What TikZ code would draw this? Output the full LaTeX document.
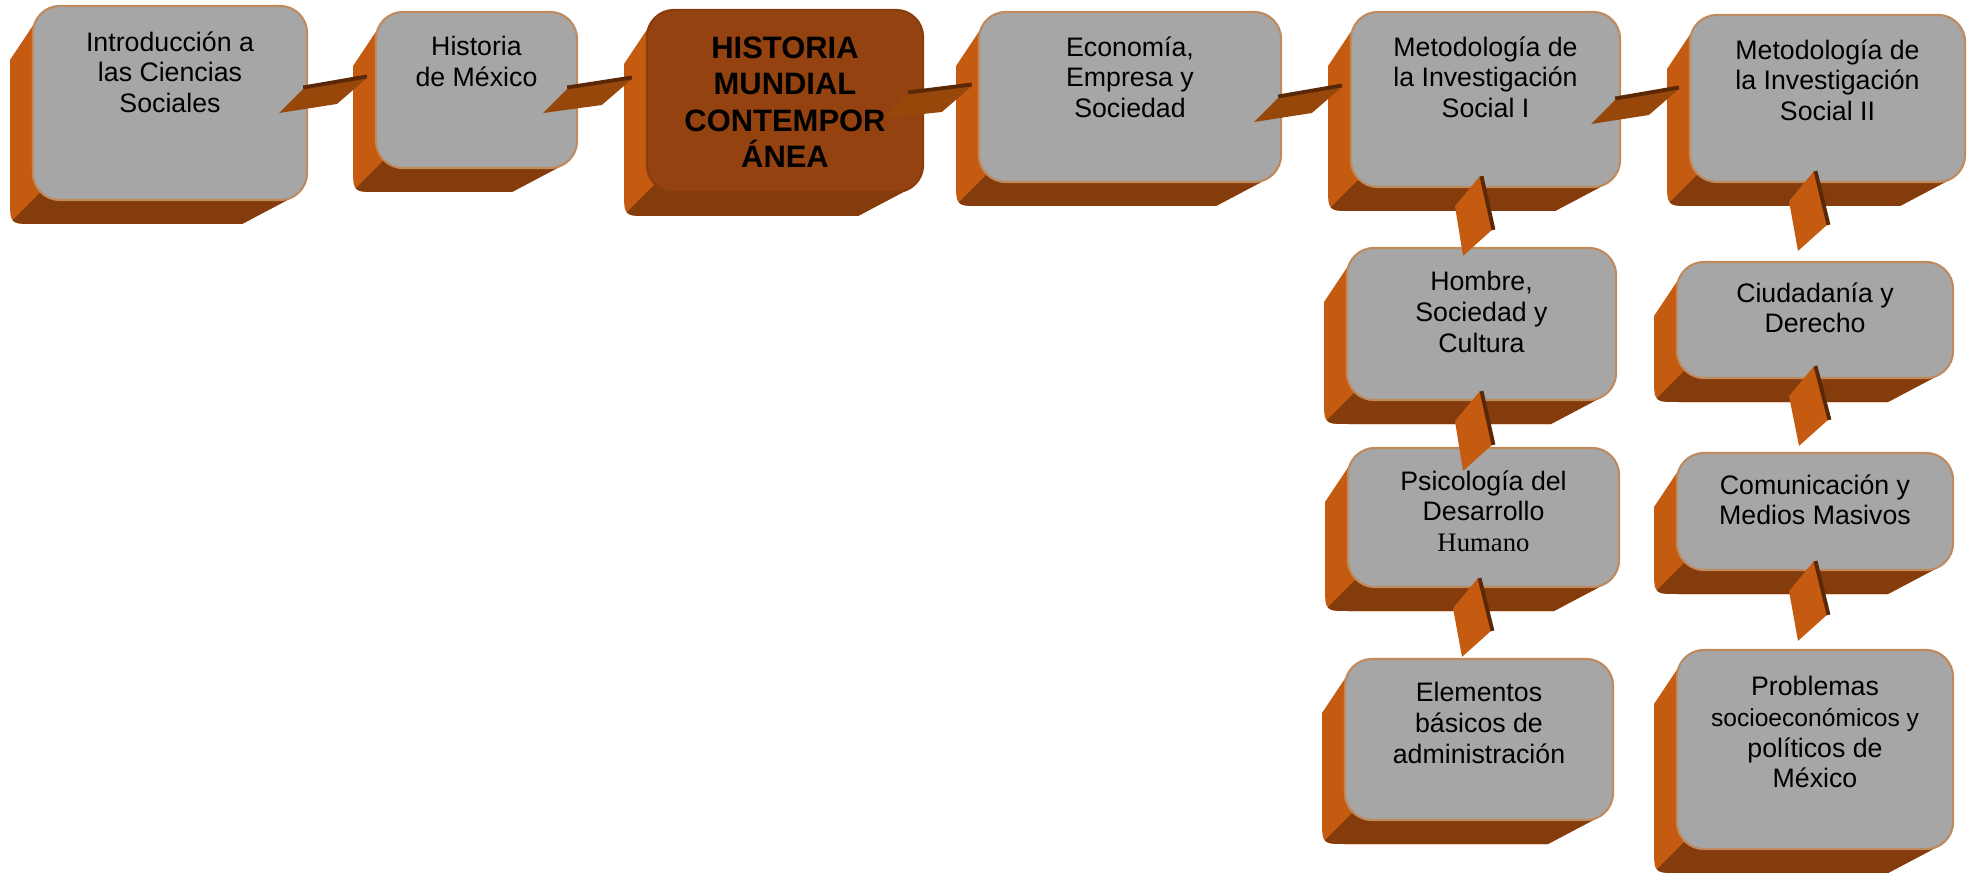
\documentclass[tikz,border=0pt]{standalone}
\usepackage{fontspec}
\setmainfont{Liberation Sans}
\newfontfamily\romana{Liberation Serif}
\usetikzlibrary{calc,positioning}

\definecolor{gris}{HTML}{A6A6A6}
\definecolor{borde}{HTML}{BF8A5E}
\definecolor{naranja}{HTML}{C55A11}
\definecolor{cafe}{HTML}{843C0C}
\definecolor{marron}{HTML}{94420F}
\definecolor{cinta}{HTML}{98470B}
\definecolor{filo}{HTML}{5A2806}

\tikzset{
  caja/.style={draw=borde, fill=gris, line width=0.6pt, rounded corners=0.27cm, inner sep=0pt},
  destacada/.style={caja, draw=marron!92!black, fill=marron},
  texto/.style={align=center, inner sep=0pt, font=\fontsize{7.6}{8.7}\selectfont},
  negrita/.style={align=center, inner sep=0pt, font=\fontsize{8.8}{10.4}\selectfont\bfseries},
  ladoclaro/.style={fill=naranja},
  ladooscuro/.style={fill=cafe},
  cintah/.style={fill=cinta},
  cintav/.style={fill=naranja},
  filo/.style={draw=filo, line width=1.1pt},
}

% 3D side of a box, from the front face x1 y1 x2 y2
\newcommand{\lado}[4]{%
  \fill[ladoclaro] (#1+6,#2+10.5) -- (#1-23,#2+54) -- (#1-23,#4-1)
    .. controls (#1-23,#4+24) .. (#1+2,#4+24) -- (#3-65,#4+24) -- (#3-12,#4-4)
    -- (#3-30,#4-10) -- (#1+10,#4-10) -- cycle;
  \begin{scope}
    \clip (#1+7,#4-7) -- (#1-43,#4+43) -- (#3+10,#4+43) -- (#3+10,#4-7) -- cycle;
    \fill[ladooscuro] (#1-23,#4-1) .. controls (#1-23,#4+24) .. (#1+2,#4+24)
      -- (#3-65,#4+24) -- (#3-12,#4-4) -- (#1-23,#4-8) -- cycle;
  \end{scope}}

% flat band between two boxes in a row
\newcommand{\puenteh}[2]{%
  \fill[cintah] (#1) -- ($(#1)+(24,-24)$) -- (#2) -- ($(#2)+(-30,26)$) -- cycle;
  \draw[filo] ($(#1)+(24,-25.5)$) -- ($(#2)+(0,-1.5)$);}

% flat band between two boxes in a column
\newcommand{\puentev}[2]{%
  \fill[cintav] (#1) -- ($(#1)+(-25,30)$) -- (#2) -- ($(#2)+(29,-26)$) -- cycle;
  \draw[filo] ($(#1)+(1.5,0)$) -- ($(#2)+(30.5,-26)$);}

\begin{document}
\begin{tikzpicture}[x=0.01cm, y=-0.01cm]
    \useasboundingbox (0,0) rectangle (1975,873);

    % lados
    \foreach \xa/\ya/\xb/\yb in {33/6/307/200, 376/12/577/168, 647/10/923/192,
        979/12/1281/182, 1351/12/1620/187, 1690/15/1965/182,
        1347/248/1616/400, 1348/448/1619/587, 1345/659/1613/820,
        1677/262/1953/378, 1677/453/1953/570, 1677/650/1953/849}
      {\lado{\xa}{\ya}{\xb}{\yb}}

    % cajas
    \node[caja, minimum width=2.74cm, minimum height=1.94cm] (intro) at (170,103) {};
    \node[caja, minimum width=2.01cm, minimum height=1.56cm] (hmx) at (476.5,90) {};
    \node[destacada, minimum width=2.76cm, minimum height=1.82cm] (hmc) at (785,101) {};
    \node[caja, minimum width=3.02cm, minimum height=1.70cm] (eco) at (1130,97) {};
    \node[caja, minimum width=2.69cm, minimum height=1.75cm] (mis1) at (1485.5,99.5) {};
    \node[caja, minimum width=2.75cm, minimum height=1.67cm] (mis2) at (1827.5,98.5) {};
    \node[caja, minimum width=2.69cm, minimum height=1.52cm] (hom) at (1481.5,324) {};
    \node[caja, minimum width=2.71cm, minimum height=1.39cm] (psi) at (1483.5,517.5) {};
    \node[caja, minimum width=2.68cm, minimum height=1.61cm] (ele) at (1479,739.5) {};
    \node[caja, minimum width=2.76cm, minimum height=1.16cm] (ciu) at (1815,320) {};
    \node[caja, minimum width=2.76cm, minimum height=1.17cm] (com) at (1815,511.5) {};
    \node[caja, minimum width=2.76cm, minimum height=1.99cm] (pro) at (1815,749.5) {};

    % puentes de la fila
    \coordinate (a1) at ($(intro.east)+(-29,10)$);
    \coordinate (b1) at ($(hmx.west)+(-8,-12)$);
    \coordinate (a2) at ($(hmx.east)+(-35,23)$);
    \coordinate (b2) at ($(hmc.west)+(-14,-22)$);
    \coordinate (a3) at ($(hmc.east)+(-40,17)$);
    \coordinate (b3) at ($(eco.west)+(-6,-11)$);
    \coordinate (a4) at ($(eco.east)+(-28,25)$);
    \coordinate (b4) at ($(mis1.west)+(-8,-12.5)$);
    \coordinate (a5) at ($(mis1.east)+(-30,24.5)$);
    \coordinate (b5) at ($(mis2.west)+(-10,-9.5)$);
    \puenteh{a1}{b1}
    \puenteh{a2}{b2}
    \puenteh{a3}{b3}
    \puenteh{a4}{b4}
    \puenteh{a5}{b5}

    % puentes de las columnas
    \coordinate (t1) at ($(mis1.south)+(-5.5,-12)$);
    \coordinate (u1) at ($(hom.north)+(-18.5,9)$);
    \coordinate (t2) at ($(hom.south)+(-1.5,-10)$);
    \coordinate (u2) at ($(psi.north)+(-20.5,24)$);
    \coordinate (t3) at ($(psi.south)+(-5.5,-10)$);
    \coordinate (u3) at ($(ele.north)+(-17,-1)$);
    \coordinate (t4) at ($(mis2.south)+(-13.5,-12)$);
    \coordinate (u4) at ($(ciu.north)+(-17,-10)$);
    \coordinate (t5) at ($(ciu.south)+(-1,-13)$);
    \coordinate (u5) at ($(com.north)+(-16,-6)$);
    \coordinate (t6) at ($(com.south)+(-1,-10)$);
    \coordinate (u6) at ($(pro.north)+(-17,-8)$);
    \puentev{t1}{u1}
    \puentev{t2}{u2}
    \puentev{t3}{u3}
    \puentev{t4}{u4}
    \puentev{t5}{u5}
    \puentev{t6}{u6}

    % textos
    \node[texto, below=0.26cm of intro.north] (intro-t) {Introducción a\\las Ciencias\\Sociales};
    \node[texto, below=0.25cm of hmx.north] (hmx-t) {Historia\\de México};
    \node[negrita, below=0.27cm of hmc.north] (hmc-t) {HISTORIA\\MUNDIAL\\CONTEMPOR\\ÁNEA};
    \node[texto, below=0.25cm of eco.north] (eco-t) {Economía,\\Empresa y\\Sociedad};
    \node[texto, below=0.25cm of mis1.north] (mis1-t) {Metodología de\\la Investigación\\Social I};
    \node[texto, below=0.25cm of mis2.north] (mis2-t) {Metodología de\\la Investigación\\Social II};
    \node[texto, below=0.24cm of hom.north] (hom-t) {Hombre,\\Sociedad y\\Cultura};
    \node[texto, below=0.23cm of psi.north] (psi-t) {Psicología del\\Desarrollo\\{\romana Humano}};
    \node[texto, below=0.24cm of ele.north] (ele-t) {Elementos\\básicos de\\administración};
    \node[texto, below=0.21cm of ciu.north] (ciu-t) {Ciudadanía y\\Derecho};
    \node[texto, below=0.22cm of com.north] (com-t) {Comunicación y\\Medios Masivos};
    \node[texto, below=0.27cm of pro.north] (pro-t) {Problemas\\{\fontsize{7}{8.7}\selectfont socioeconómicos y}\\políticos de\\México};

\end{tikzpicture}
\end{document}
